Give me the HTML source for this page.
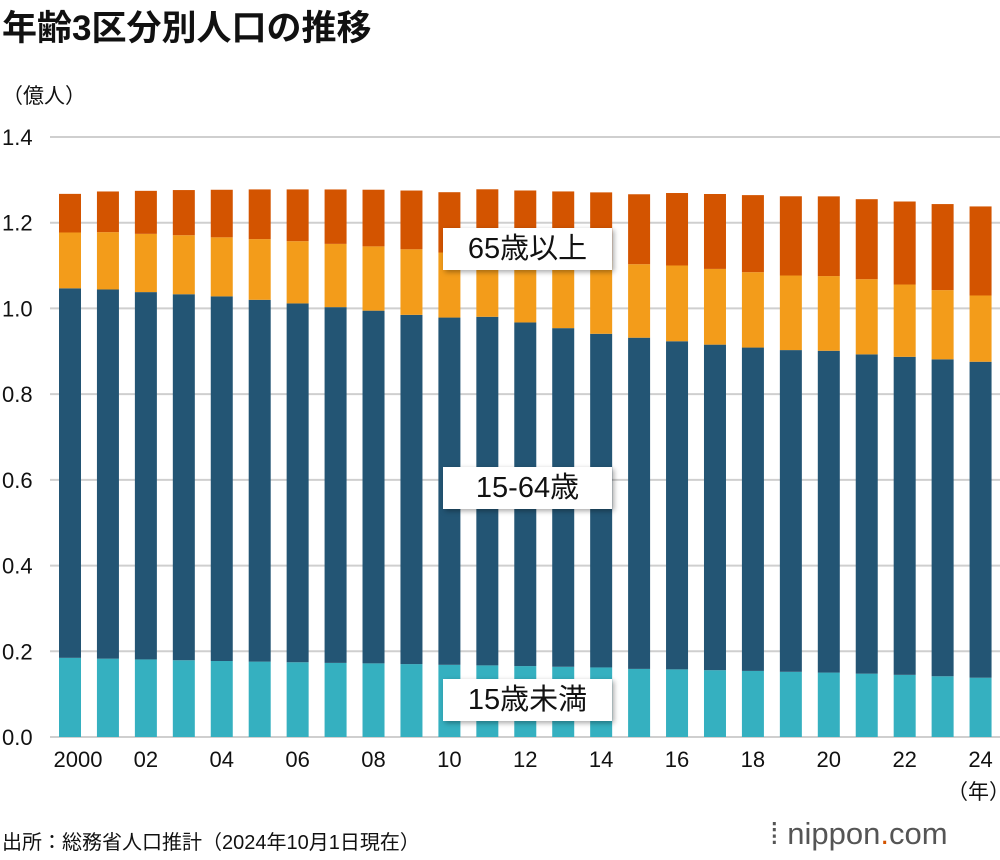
<!DOCTYPE html>
<html><head><meta charset="utf-8"><style>
body{margin:0;background:#fff;font-family:"Liberation Sans","Noto Sans CJK JP",sans-serif;}
.t{position:absolute;color:#111;}
.lab{position:absolute;background:#fff;box-shadow:2px 2px 5px rgba(0,0,0,.35);font-size:29px;color:#111;text-align:center;line-height:42px;height:42px;}
</style></head><body>
<div style="position:relative;width:1000px;height:860px;overflow:hidden">
<div class="t" style="left:2px;top:0px;font-size:35px;font-weight:bold">年齢3区分別人口の推移</div>
<div class="t" style="left:2px;top:80px;font-size:21px">（億人）</div>
<svg id="c" width="1000" height="860" style="position:absolute;left:0;top:0"></svg>
<div class="lab" style="left:443px;top:228px;width:169px">65歳以上</div>
<div class="lab" style="left:443px;top:467px;width:169px">15-64歳</div>
<div class="lab" style="left:443px;top:679px;width:169px">15歳未満</div>
<div class="t" style="left:947px;top:776px;font-size:21px">（年）</div>
<div class="t" style="left:2px;top:826px;font-size:20px">出所：総務省人口推計（2024年10月1日現在）</div>
<div class="t" style="left:770px;top:816px;font-size:31px;color:#555">⁞ nippon<span style="color:#d35400">.</span>com</div>
</div>
<script>
const years=[2000,2001,2002,2003,2004,2005,2006,2007,2008,2009,2010,2011,2012,2013,2014,2015,2016,2017,2018,2019,2020,2021,2022,2023,2024];
const under15=[.1847,.1828,.1810,.1791,.1773,.1759,.1744,.1729,.1718,.1701,.1684,.1671,.1655,.1639,.1623,.1589,.1578,.1559,.1542,.1521,.1503,.1478,.1450,.1417,.1383];
const working=[.8622,.8614,.8571,.8540,.8508,.8442,.8373,.8301,.8230,.8149,.8103,.8134,.8018,.7901,.7785,.7728,.7656,.7596,.7545,.7507,.7509,.7450,.7421,.7395,.7373];
const elderly=[.2204,.2287,.2363,.2431,.2488,.2576,.2660,.2746,.2822,.2901,.2925,.2975,.3079,.3190,.3300,.3347,.3459,.3515,.3557,.3589,.3603,.3621,.3624,.3623,.3624];
const over75=[.0901,.0949,.1004,.1054,.1110,.1160,.1208,.1270,.1322,.1371,.1407,.1471,.1519,.1560,.1592,.1632,.1691,.1748,.1798,.1849,.1860,.1867,.1937,.2008,.2078];
const yTicks=["0.0","0.2","0.4","0.6","0.8","1.0","1.2","1.4"];
const xLabels=["2000","02","04","06","08","10","12","14","16","18","20","22","24"];
const svg=document.getElementById('c');const NS='http://www.w3.org/2000/svg';
const y=v=>737-v*428.57;const x=i=>70+i*37.94;
function mk(t,a){const e=document.createElementNS(NS,t);for(const k in a)e.setAttribute(k,a[k]);svg.appendChild(e);return e;}
yTicks.forEach((l,i)=>{const v=parseFloat(l);
const g=mk('line',{x1:50,x2:1000,y1:y(v),y2:y(v),stroke:'#cfcfcf','stroke-width':2});


const t=mk('text',{x:2,y:y(v)+8,'font-size':22,fill:'#111'});t.textContent=l;

});
const cols=['#35b0c0','#235574','#f39c1a','#d35400'];
const names=['under15','15-64','65-74','75plus'];
years.forEach((yr,i)=>{const segs=[under15[i],working[i],elderly[i]-over75[i],over75[i]];let b=0;
segs.forEach((s,j)=>{const r=mk('rect',{x:x(i)-11,width:22,y:y(b+s),height:y(b)-y(b+s),fill:cols[j]});

b+=s;});});
xLabels.forEach((l,k)=>{const t=mk('text',{x:x(k*2)+(k==0?8:0),y:767,'font-size':22,fill:'#111','text-anchor':'middle'});t.textContent=l;

});
</script>
</body></html>
